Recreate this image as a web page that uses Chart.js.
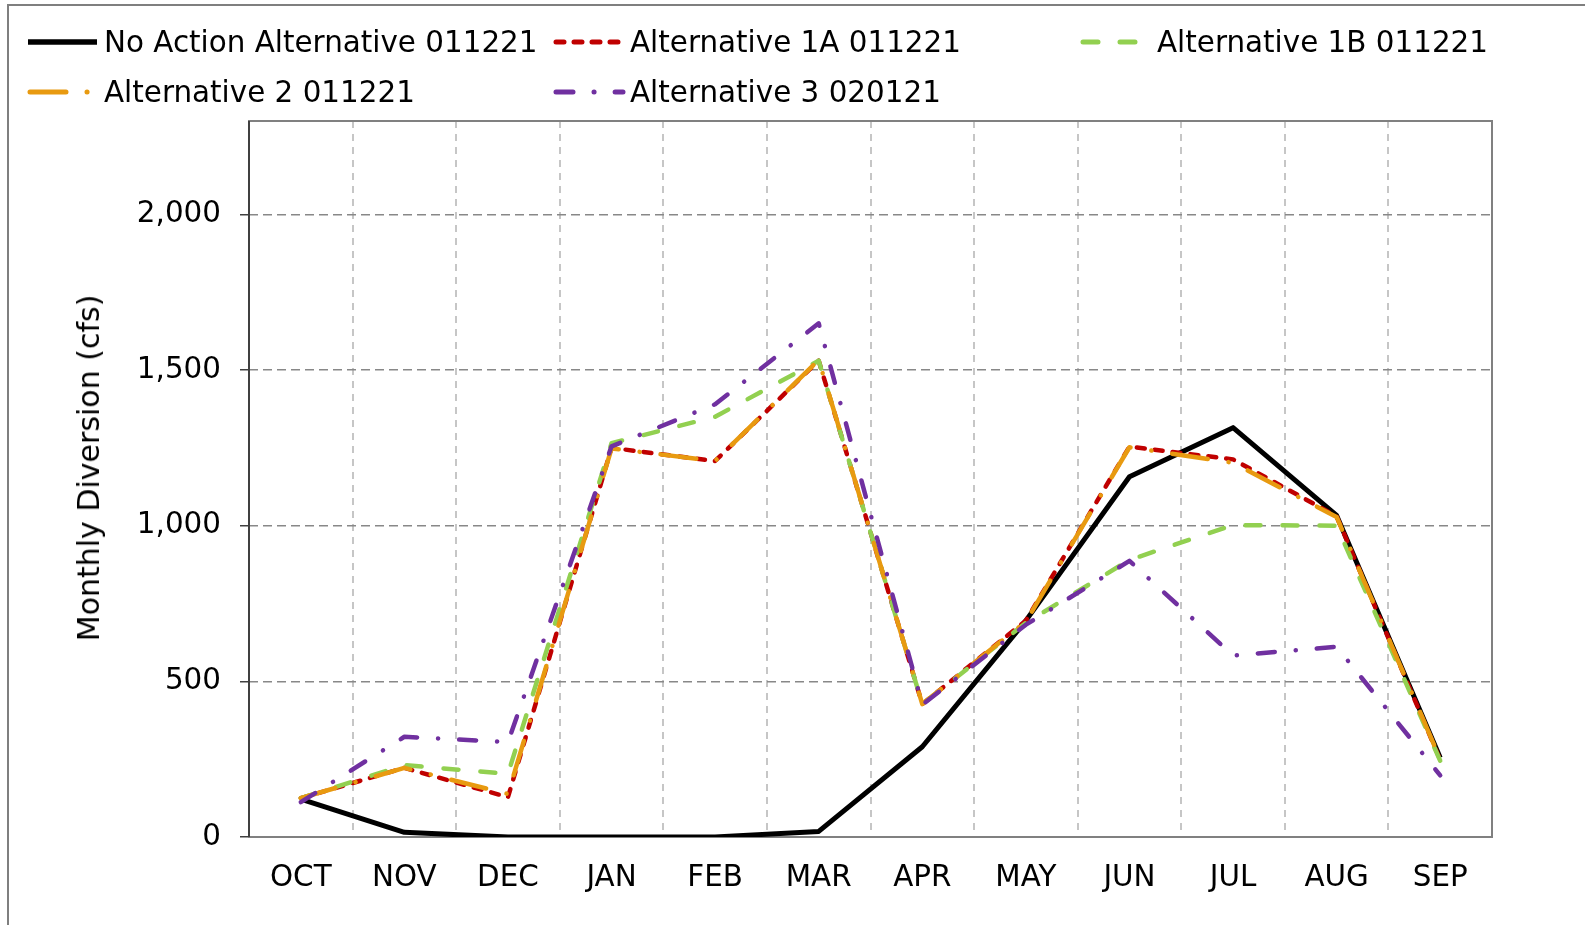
<!DOCTYPE html>
<html>
<head>
<meta charset="utf-8">
<script src="https://cdn.jsdelivr.net/npm/chart.js@4.4.1/dist/chart.umd.min.js"></script>
<style>
  html, body { margin: 0; padding: 0; background: #fff; }
  #wrap { position: relative; width: 1585px; height: 925px; overflow: hidden;
          font-family: "DejaVu Sans", Verdana, sans-serif; }
  #frame { position: absolute; left: 7px; top: 4px; width: 1600px; height: 1000px;
           border-top: 2px solid #7f7f7f; border-left: 2px solid #7f7f7f; }
  #chart { position: absolute; left: 0; top: 0; }
  .lg { position: absolute; height: 34px; line-height: 34px; font-size: 29.4px; color: #000; white-space: nowrap; }
  .lg svg { position: absolute; left: 0; top: 0; }
  .lg span { position: absolute; left: 77px; top: 0; }
  #ytitle { position: absolute; left: 89px; top: 468px; font-size: 30px; color: #000; white-space: nowrap;
            transform: translate(-50%, -50%) rotate(-90deg); line-height: 36px; }
</style>
</head>
<body>
<div id="wrap">
  <div id="frame"></div>
  <canvas id="chart" width="1585" height="925"></canvas>
  <div id="legend"></div>
  <div id="ytitle">Monthly Diversion (cfs)</div>
</div>
<script>
// data
const months = ['OCT', 'NOV', 'DEC', 'JAN', 'FEB', 'MAR', 'APR', 'MAY', 'JUN', 'JUL', 'AUG', 'SEP'];
const noAction = [122, 15, 0, 0, 0, 18, 290, 695, 1157, 1315, 1033, 255];
const alt1A    = [125, 222, 128, 1250, 1208, 1530, 427, 695, 1254, 1213, 1030, 248];
const alt1B    = [125, 231, 203, 1265, 1350, 1530, 427, 688, 890, 1002, 1000, 245];
const alt2     = [125, 222, 138, 1248, 1208, 1532, 427, 692, 1252, 1202, 1028, 250];
const alt3     = [112, 322, 305, 1255, 1390, 1650, 425, 682, 887, 583, 611, 198];
const yTicks = [0, 500, 1000, 1500, 2000];
const yMax = 2300;

const FONT = '"DejaVu Sans", Verdana, sans-serif';

const series = [
  { label: 'No Action Alternative 011221', data: noAction, color: '#000000', width: 5, dash: [], cap: 'butt', order: 5, lg: [27, 25] },
  { label: 'Alternative 1A 011221', data: alt1A, color: '#c00000', width: 4.5, dash: [8, 10], cap: 'round', order: 4, lg: [553, 25] },
  { label: 'Alternative 1B 011221', data: alt1B, color: '#92d050', width: 4.5, dash: [15, 22], cap: 'round', order: 3, lg: [1080, 25] },
  { label: 'Alternative 2 011221', data: alt2, color: '#e89a10', width: 4.5, dash: [36, 21, 0.1, 21], cap: 'round', order: 2, lg: [27, 75] },
  { label: 'Alternative 3 020121', data: alt3, color: '#7030a0', width: 4.5, dash: [17, 21, 0.1, 21], cap: 'round', order: 1, lg: [553, 75] }
];

// html legend (Excel-like column layout)
const legendEl = document.getElementById('legend');
series.forEach(s => {
  const d = document.createElement('div');
  d.className = 'lg';
  d.style.left = s.lg[0] + 'px';
  d.style.top = s.lg[1] + 'px';
  const x1 = s.cap === 'round' ? 3 : 1;
  d.innerHTML = '<svg width="76" height="34"><line x1="' + x1 + '" y1="17" x2="70" y2="17" stroke="' + s.color +
    '" stroke-width="' + (s.width + 0.5) + '" stroke-linecap="' + s.cap + '"' +
    (s.dash.length ? ' stroke-dasharray="' + s.dash.join(' ') + '"' : '') + '/></svg>';
  const t = document.createElement('span');
  t.textContent = s.label;
  d.appendChild(t);
  legendEl.appendChild(d);
});

// plot area frame
const plotFrame = {
  id: 'plotFrame',
  beforeDatasetsDraw(chart) {
    const a = chart.chartArea, c = chart.ctx;
    c.save();
    c.strokeStyle = '#808080';
    c.lineWidth = 2;
    c.strokeRect(a.left, a.top, a.right - a.left, a.bottom - a.top);
    c.strokeStyle = '#404040';
    c.beginPath();
    c.moveTo(a.left, a.top);
    c.lineTo(a.left, a.bottom);
    c.stroke();
    c.restore();
  }
};

const chart = new Chart(document.getElementById('chart').getContext('2d'), {
  type: 'line',
  data: {
    labels: months,
    datasets: series.map(s => ({
      label: s.label,
      data: s.data,
      borderColor: s.color,
      backgroundColor: s.color,
      borderWidth: s.width,
      borderDash: s.dash,
      borderCapStyle: s.cap,
      borderJoinStyle: 'round',
      pointRadius: 0,
      tension: 0,
      fill: false,
      order: s.order
    }))
  },
  options: {
    responsive: false,
    animation: false,
    devicePixelRatio: 1,
    layout: { padding: { left: 0, top: 121, right: 93, bottom: 0 } },
    plugins: { legend: { display: false }, tooltip: { enabled: false } },
    scales: {
      x: {
        offset: true,
        afterFit: s => { s.height = 88; },
        grid: { offset: true, color: '#c6c6c6', lineWidth: 2, drawTicks: false },
        border: { display: false, dash: [7, 6] },
        ticks: { color: '#000', font: { family: FONT, size: 29.4 }, padding: 24, maxRotation: 0, autoSkip: false }
      },
      y: {
        min: 0,
        max: yMax,
        afterFit: s => { s.width = 249; },
        afterBuildTicks: s => { s.ticks = yTicks.map(v => ({ value: v })); },
        grid: { color: '#888888', lineWidth: 1.5, tickLength: 9, tickColor: '#404040', tickWidth: 1.5 },
        border: { display: false, dash: [9, 5] },
        ticks: {
          color: '#000',
          font: { family: FONT, size: 29.4 },
          padding: 19,
          callback: v => v.toLocaleString('en-US')
        }
      }
    }
  },
  plugins: [plotFrame]
});
</script>
</body>
</html>
